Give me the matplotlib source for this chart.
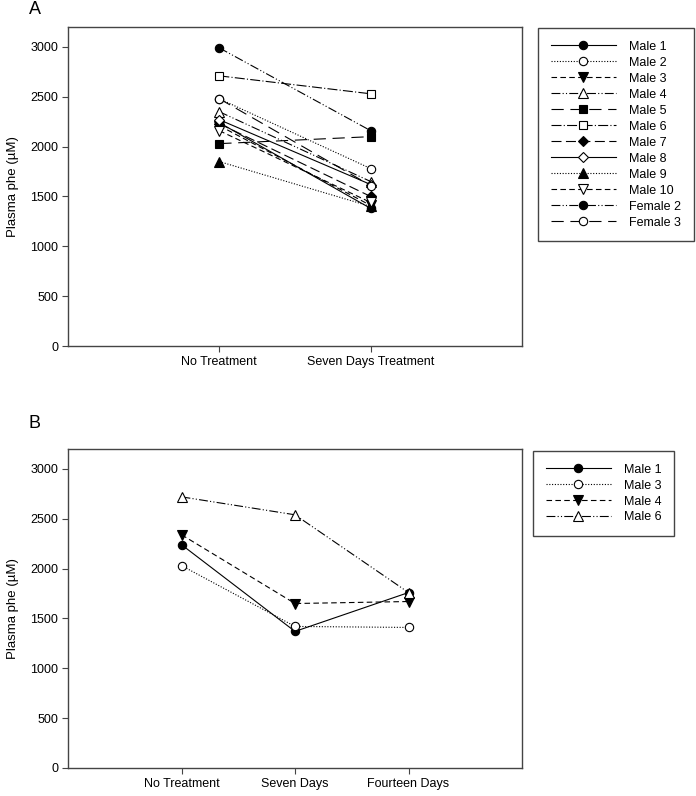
import matplotlib
matplotlib.use("Agg")
import matplotlib.pyplot as plt

plt.rcParams['font.family'] = ['Liberation Sans', 'DejaVu Sans']

# panel A data
cats_a = ['No Treatment', 'Seven Days Treatment']
names_a = ['Male 1', 'Male 2', 'Male 3', 'Male 4', 'Male 5', 'Male 6',
           'Male 7', 'Male 8', 'Male 9', 'Male 10', 'Female 2', 'Female 3']
no_treat_a = [2240, 2480, 2210, 2350, 2030, 2710, 2230, 2270, 1850, 2160, 2990, 2480]
seven_a = [1380, 1780, 1410, 1650, 2100, 2530, 1500, 1620, 1400, 1440, 2160, 1610]

# panel B data
cats_b = ['No Treatment', 'Seven Days', 'Fourteen Days']
names_b = ['Male 1', 'Male 3', 'Male 4', 'Male 6']
male1_b = [2240, 1370, 1760]
male3_b = [2030, 1420, 1410]
male4_b = [2340, 1650, 1670]
male6_b = [2720, 2540, 1760]

# line/marker styles per subject
styles = {
    'Male 1': ('-', 'o', 'k'),
    'Male 2': ((0, (1, 1.5)), 'o', 'w'),
    'Male 3': ((0, (5, 3)), 'v', 'k'),
    'Male 4': ((0, (8, 2, 1, 2, 1, 2)), '^', 'w'),
    'Male 5': ((0, (11, 6)), 's', 'k'),
    'Male 6': ((0, (9, 2, 1, 2)), 's', 'w'),
    'Male 7': ((0, (9, 4)), 'D', 'k'),
    'Male 8': ('-', 'D', 'w'),
    'Male 9': ((0, (1, 1.5)), '^', 'k'),
    'Male 10': ((0, (5, 3)), 'v', 'w'),
    'Female 2': ((0, (8, 2, 1, 2, 1, 2)), 'o', 'k'),
    'Female 3': ((0, (11, 6)), 'o', 'w'),
}
styles_b = {
    'Male 1': ('-', 'o', 'k'),
    'Male 3': ((0, (1, 1.5)), 'o', 'w'),
    'Male 4': ((0, (5, 3)), 'v', 'k'),
    'Male 6': ((0, (8, 2, 1, 2, 1, 2)), '^', 'w'),
}

fig = plt.figure(figsize=(6.96, 7.96), dpi=100)
W, H = 696.0, 796.0
ax_a = fig.add_axes([68 / W, 1 - 346 / H, 454 / W, 319 / H])
ax_b = fig.add_axes([68 / W, 1 - 768 / H, 454 / W, 319 / H])


def style_axes(ax, cats):
    ax.set_xlim(0, len(cats) + 1)
    ax.set_ylim(0, 3200)
    ax.set_xticks(range(1, len(cats) + 1))
    ax.set_xticklabels(cats)
    ax.set_yticks(range(0, 3001, 500))
    ax.tick_params(direction='out', length=4, width=0.8, labelsize=9,
                   color='#444444', pad=3)
    for s in ax.spines.values():
        s.set_color('#444444')
        s.set_linewidth(1.0)
    ax.set_ylabel('Plasma phe (\u00b5M)', fontsize=9.5, labelpad=8)


for i, name in enumerate(names_a):
    ls, mk, fc = styles[name]
    ms = 6.5 if mk in ('v', '^') else (5.5 if mk == 'D' else 6)
    ax_a.plot([1, 2], [no_treat_a[i], seven_a[i]], color='k', linestyle=ls,
              linewidth=0.8, marker=mk, markersize=ms, markerfacecolor=fc,
              markeredgecolor='k', markeredgewidth=0.8, label=name)
style_axes(ax_a, cats_a)

series_b = [male1_b, male3_b, male4_b, male6_b]
for name, vals in zip(names_b, series_b):
    ls, mk, fc = styles_b[name]
    ms = 6.5 if mk in ('v', '^') else 6
    ax_b.plot(range(1, len(cats_b) + 1), vals, color='k', linestyle=ls,
              linewidth=0.8, marker=mk, markersize=ms, markerfacecolor=fc,
              markeredgecolor='k', markeredgewidth=0.8, label=name)
style_axes(ax_b, cats_b)

leg_kw = dict(loc='upper left', fontsize=9, handlelength=5.2,
              handletextpad=1.1, labelspacing=0.32, borderpad=1.0,
              fancybox=False, framealpha=1, edgecolor='#444444',
              borderaxespad=0, bbox_transform=fig.transFigure)
la = ax_a.legend(bbox_to_anchor=(538 / W, 1 - 28 / H), **leg_kw)
lb = ax_b.legend(bbox_to_anchor=(533 / W, 1 - 451 / H), **leg_kw)
for lg in (la, lb):
    lg.get_frame().set_linewidth(1.0)

fig.text(29 / W, 1 - 10 / H, 'A', fontsize=13, va='center', ha='left')
fig.text(29 / W, 1 - 423 / H, 'B', fontsize=13, va='center', ha='left')

fig.savefig('out.png', dpi=100)
